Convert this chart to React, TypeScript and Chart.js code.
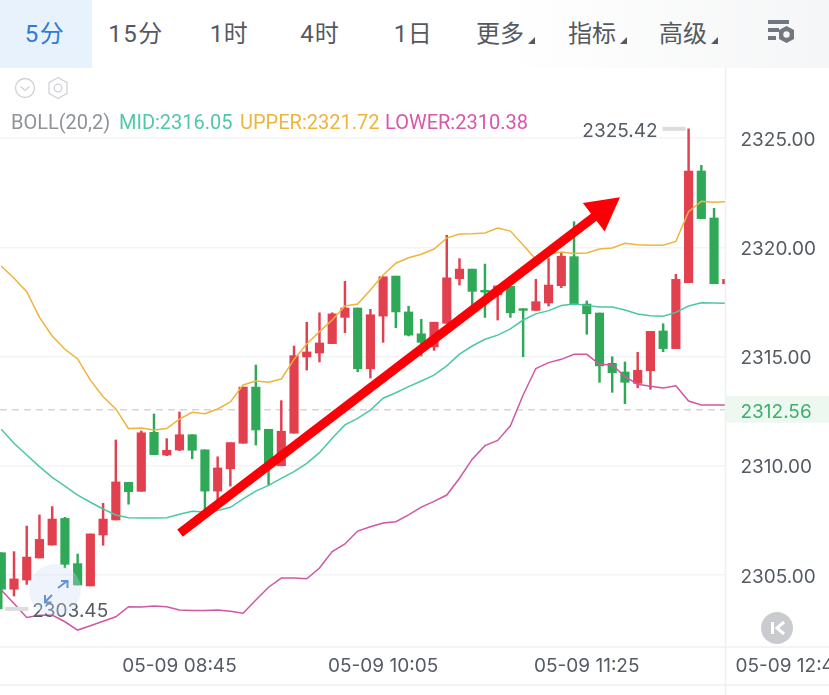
import React, { useEffect, useRef } from "react";
import { Chart, registerables } from "chart.js";

Chart.register(...registerables);

const opens = [2306.02,2304.35,2304.77,2305.78,2306.37,2307.59,2305.52,2304.50,2306.83,2307.52,2309.24,2308.83,2311.53,2310.49,2310.72,2311.42,2310.73,2308.84,2309.86,2311.03,2313.60,2311.67,2310.00,2311.49,2314.98,2315.16,2315.59,2316.79,2317.22,2314.44,2316.85,2318.68,2317.04,2316.04,2315.44,2316.52,2318.56,2319.00,2318.03,2317.82,2318.21,2317.19,2317.11,2317.45,2318.24,2319.57,2317.40,2316.99,2314.69,2314.29,2313.77,2314.35,2316.17,2315.36,2318.38,2323.49,2321.34,2318.33];
const highs = [2306.02,2306.07,2307.24,2307.75,2308.13,2307.64,2305.96,2306.88,2308.28,2311.18,2309.24,2311.59,2312.37,2311.24,2312.46,2311.42,2310.73,2310.41,2311.06,2313.60,2314.61,2311.67,2312.98,2315.48,2316.57,2317.00,2317.00,2318.44,2317.22,2317.16,2318.65,2318.68,2317.30,2316.70,2316.57,2320.55,2319.48,2319.00,2319.23,2318.23,2318.21,2317.19,2318.53,2319.48,2319.72,2321.17,2317.54,2316.99,2314.99,2314.75,2315.19,2316.15,2316.50,2318.76,2325.42,2323.75,2321.78,2318.53];
const lows = [2303.45,2304.04,2304.57,2305.78,2306.37,2305.33,2304.54,2304.50,2306.36,2307.52,2308.24,2308.83,2310.51,2310.46,2310.69,2310.32,2307.97,2308.43,2309.07,2311.03,2310.95,2309.12,2310.00,2311.49,2314.38,2314.75,2315.59,2316.09,2314.30,2314.02,2315.65,2316.32,2315.94,2315.02,2315.28,2316.52,2318.27,2317.31,2316.79,2316.67,2316.79,2314.99,2317.11,2317.31,2318.15,2317.40,2316.02,2313.82,2313.36,2312.84,2313.57,2313.50,2315.22,2315.36,2318.38,2321.31,2318.33,2318.33];
const closes = [2304.35,2304.82,2305.82,2306.63,2307.56,2305.49,2304.54,2306.88,2307.56,2309.26,2308.81,2311.51,2310.51,2310.71,2311.42,2310.71,2308.84,2309.90,2311.06,2313.60,2311.64,2310.03,2311.58,2315.04,2315.21,2315.62,2316.95,2317.22,2314.44,2316.91,2318.65,2317.04,2315.98,2315.65,2316.57,2318.60,2319.00,2317.98,2317.95,2318.23,2317.00,2317.11,2317.51,2318.27,2319.59,2317.40,2316.96,2314.57,2314.26,2313.82,2314.37,2316.15,2315.36,2318.53,2323.49,2321.31,2318.33,2318.53];

const upper = [2319.14,2318.58,2317.97,2316.79,2315.94,2315.33,2314.89,2313.92,2313.16,2312.60,2311.70,2311.73,2311.64,2311.70,2312.13,2312.45,2312.38,2312.60,2312.92,2313.70,2313.88,2313.82,2313.97,2314.87,2315.57,2316.14,2316.67,2317.31,2317.40,2318.04,2318.73,2319.27,2319.52,2319.68,2319.92,2320.42,2320.61,2320.62,2320.65,2320.88,2320.74,2320.10,2319.45,2319.69,2319.78,2319.72,2319.74,2319.92,2319.97,2320.18,2320.12,2320.09,2320.09,2320.27,2321.63,2322.10,2322.06,2322.09];
const mid = [2311.67,2311.03,2310.49,2309.96,2309.47,2309.07,2308.66,2308.33,2308.02,2307.75,2307.62,2307.61,2307.61,2307.62,2307.78,2307.92,2307.88,2307.95,2308.10,2308.48,2308.84,2309.10,2309.42,2309.73,2310.11,2310.60,2311.26,2311.87,2312.17,2312.55,2313.09,2313.34,2313.62,2313.88,2314.15,2314.57,2315.11,2315.48,2315.79,2315.98,2316.26,2316.67,2316.95,2317.10,2317.33,2317.40,2317.34,2317.27,2317.27,2317.13,2316.95,2316.87,2316.84,2317.02,2317.31,2317.46,2317.45,2317.43];
const lower = [2304.31,2303.70,2303.06,2303.16,2303.17,2302.86,2302.48,2302.68,2302.88,2303.09,2303.55,2303.54,2303.58,2303.55,2303.40,2303.37,2303.38,2303.40,2303.34,2303.25,2303.86,2304.44,2304.86,2304.86,2304.83,2305.32,2306.07,2306.42,2307.01,2307.21,2307.38,2307.44,2307.75,2308.11,2308.37,2308.66,2309.43,2310.30,2310.92,2311.16,2311.83,2313.24,2314.45,2314.72,2314.87,2315.10,2315.10,2314.64,2314.61,2314.08,2313.73,2313.64,2313.56,2313.66,2312.96,2312.78,2312.78,2312.78];

const xTickIndex = [14, 30, 46, 62];
const xTickLabels = ["05-09 08:45", "05-09 10:05", "05-09 11:25", "05-09 12:45"];
const yTickValues = [2305, 2310, 2315, 2320, 2325];

const lastPrice = 2312.56;
const highMark = { index: 54, price: 2325.42 };
const lowMark = { index: 0, price: 2303.45 };
const arrowFrom = { index: 14.04, price: 2306.92 };
const arrowTo = { index: 48.61, price: 2322.29 };

const toolbarItems = [
  { text: "5分", cx: 45, active: true, spacing: 1.5 },
  { text: "15分", cx: 136, spacing: 1.5 },
  { text: "1时", cx: 229, spacing: 0.5 },
  { text: "4时", cx: 320, spacing: 1 },
  { text: "1日", cx: 413, spacing: 0.5 },
  { text: "更多", cx: 500, caret: true },
  { text: "指标", cx: 592, caret: true },
  { text: "高级", cx: 683, caret: true },
];
const legendItems = [
  { text: "BOLL(20,2)", left: 11, color: "#8f9399" },
  { text: "MID:2316.05", left: 119, color: "#4fc9a6" },
  { text: "UPPER:2321.72", left: 240, color: "#eeb43c" },
  { text: "LOWER:2310.38", left: 385, color: "#d957a8" },
];

const RED = "#e2404f";
const GREEN = "#2fa957";
const TEXT = "#555b63";
const FONT = "Roboto, 'Noto Sans CJK SC', sans-serif";
const NUM_FONT = "Inter, Roboto, sans-serif";

const overlayPlugin = {
  id: "overlay",
  beforeDatasetsDraw(chart: any) {
    const { ctx, chartArea, scales } = chart;
    const y = scales.y.getPixelForValue(lastPrice);
    ctx.save();
    ctx.strokeStyle = "#d6d6d6";
    ctx.lineWidth = 1.5;
    ctx.setLineDash([7, 5]);
    ctx.beginPath();
    ctx.moveTo(chartArea.left, y);
    ctx.lineTo(chartArea.right, y);
    ctx.stroke();
    ctx.restore();
  },
  afterDatasetsDraw(chart: any) {
    const { ctx, chartArea, scales, width, height } = chart;
    const sx = scales.x;
    const sy = scales.y;
    ctx.save();

    // axis chrome
    ctx.strokeStyle = "#eff0f2";
    ctx.lineWidth = 1.5;
    ctx.beginPath();
    ctx.moveTo(chartArea.right + 0.5, chartArea.top);
    ctx.lineTo(chartArea.right + 0.5, height);
    ctx.moveTo(0, sx.bottom);
    ctx.lineTo(width, sx.bottom);
    ctx.moveTo(0, chartArea.bottom);
    ctx.lineTo(width, chartArea.bottom);
    ctx.stroke();

    // trend arrow
    const x0 = sx.getPixelForValue(arrowFrom.index);
    const y0 = sy.getPixelForValue(arrowFrom.price);
    const x1 = sx.getPixelForValue(arrowTo.index);
    const y1 = sy.getPixelForValue(arrowTo.price);
    const a = Math.atan2(y1 - y0, x1 - x0);
    const headLen = 33;
    const headHalf = 18;
    const bx = x1 - Math.cos(a) * headLen;
    const by = y1 - Math.sin(a) * headLen;
    ctx.strokeStyle = "#fb0007";
    ctx.lineWidth = 9;
    ctx.beginPath();
    ctx.moveTo(x0, y0);
    ctx.lineTo(bx + Math.cos(a) * 8, by + Math.sin(a) * 8);
    ctx.stroke();
    ctx.fillStyle = "#fb0007";
    ctx.beginPath();
    ctx.moveTo(x1, y1);
    ctx.lineTo(bx - Math.sin(a) * headHalf, by + Math.cos(a) * headHalf);
    ctx.lineTo(bx + Math.sin(a) * headHalf, by - Math.cos(a) * headHalf);
    ctx.closePath();
    ctx.fill();

    ctx.font = `19px ${NUM_FONT}`;
    ctx.textBaseline = "middle";

    // y tick labels, nudged onto the reference's text centre
    ctx.fillStyle = TEXT;
    ctx.textAlign = "left";
    sy.ticks.forEach((t: any) => {
      ctx.fillText(Number(t.value).toFixed(2), chartArea.right + 15.5, sy.getPixelForValue(t.value) + 2);
    });

    // high and low marks
    const hx = sx.getPixelForValue(highMark.index);
    const hy = sy.getPixelForValue(highMark.price);
    ctx.fillStyle = "#dcdcdc";
    ctx.fillRect(hx - 26, hy - 2, 23, 4);
    ctx.fillStyle = TEXT;
    ctx.textAlign = "right";
    ctx.fillText(highMark.price.toFixed(2), hx - 31, hy + 2);
    const lx = sx.getPixelForValue(lowMark.index);
    const ly = sy.getPixelForValue(lowMark.price);
    ctx.fillStyle = "#dcdcdc";
    ctx.fillRect(lx + 4, ly - 2, 23, 4);
    ctx.fillStyle = TEXT;
    ctx.textAlign = "left";
    ctx.fillText(lowMark.price.toFixed(2), lx + 31, ly + 2);

    // last price tag
    const py = sy.getPixelForValue(lastPrice);
    ctx.fillStyle = "#edf8f1";
    ctx.fillRect(chartArea.right + 1, py - 14, width - chartArea.right, 27);
    ctx.fillStyle = "#3fae6d";
    ctx.fillText(lastPrice.toFixed(2), chartArea.right + 15.5, py + 2);
    ctx.restore();
  },
};

function Toolbar() {
  return (
    <div style={{ position: "absolute", left: 0, top: 0, width: 829, height: 68, background: "linear-gradient(90deg,#ffffff 60%,#f5f6f7 100%)" }}>
      <div style={{ position: "absolute", left: 0, top: 0, width: 92, height: 68, background: "#e8f2fc" }} />
      {toolbarItems.map((it) => (
        <React.Fragment key={it.text}>
          <span style={{ position: "absolute", left: it.cx - 50, width: 100, top: 17, textAlign: "center", fontFamily: FONT, fontSize: 24, lineHeight: "34px", letterSpacing: it.spacing ?? 0, color: it.active ? "#2f7bd6" : "#55595f" }}>
            {it.text}
          </span>
          {it.caret ? (
            <svg style={{ position: "absolute", left: it.cx + 27, top: 36 }} width="9" height="9">
              <path d="M8 1V8H1Z" fill="#55595f" />
            </svg>
          ) : null}
        </React.Fragment>
      ))}
      <svg style={{ position: "absolute", left: 766, top: 18 }} width="34" height="30" viewBox="0 0 34 30">
        <rect x="2" y="2" width="21" height="4" fill="#737880" />
        <rect x="2" y="10" width="11" height="4" fill="#737880" />
        <rect x="2" y="18" width="8" height="4" fill="#737880" />
        <path d="M20.5 8 L28 12 V21 L20.5 25 L13 21 V12 Z" fill="#737880" />
        <circle cx="20.5" cy="16.5" r="3.2" fill="#f5f6f7" />
      </svg>
    </div>
  );
}

function ChartIcons() {
  return (
    <>
      <svg style={{ position: "absolute", left: 12, top: 76 }} width="60" height="26" viewBox="0 0 60 26">
        <circle cx="13" cy="12" r="9.5" fill="none" stroke="#cfd2d6" strokeWidth="1.3" />
        <path d="M8.5 10.5 L13 14.5 L17.5 10.5" fill="none" stroke="#cfd2d6" strokeWidth="1.3" />
        <path d="M46 1.5 L55 6.7 V17.3 L46 22.5 L37 17.3 V6.7 Z" fill="none" stroke="#cfd2d6" strokeWidth="1.3" />
        <circle cx="46" cy="12" r="3.8" fill="none" stroke="#cfd2d6" strokeWidth="1.3" />
      </svg>
      {legendItems.map((it) => (
        <span key={it.text} style={{ position: "absolute", left: it.left, top: 110, fontFamily: FONT, fontSize: 20, lineHeight: "24px", color: it.color, whiteSpace: "nowrap" }}>
          {it.text}
        </span>
      ))}
      <svg style={{ position: "absolute", left: 28, top: 563 }} width="54" height="54" viewBox="0 0 54 54">
        <circle cx="27" cy="27" r="26" fill="rgba(205,222,245,0.32)" />
        <path d="M30 25 L39 18 M33 18 L39.5 18 L39.5 25" fill="none" stroke="#5f93da" strokeWidth="2" />
        <path d="M24 32 L17 39 M17 32 L17 39.5 L23.5 39.5" fill="none" stroke="#5f93da" strokeWidth="2" />
      </svg>
      <svg style={{ position: "absolute", left: 761, top: 612 }} width="32" height="32" viewBox="0 0 32 32">
        <circle cx="16" cy="16" r="16" fill="#c9cbcf" />
        <rect x="10" y="10" width="3" height="12" fill="#fff" />
        <path d="M23 10 L16 16 L23 22" fill="none" stroke="#fff" strokeWidth="3" />
      </svg>
    </>
  );
}

export default function App() {
  const ref = useRef<HTMLCanvasElement>(null);

  useEffect(() => {
    const colors = closes.map((c, i) => (c >= opens[i] ? RED : GREEN));
    const lineBase = { type: "line", pointRadius: 0, borderWidth: 1.5, tension: 0, order: 1, fill: false };
    const chart = new Chart(ref.current as any, {
      type: "bar",
      data: {
        datasets: [
          { ...lineBase, label: "UPPER", data: upper.map((y, x) => ({ x, y })), borderColor: "#eeb43c" },
          { ...lineBase, label: "MID", data: mid.map((y, x) => ({ x, y })), borderColor: "#4cc7a6" },
          { ...lineBase, label: "LOWER", data: lower.map((y, x) => ({ x, y })), borderColor: "#cf57a4" },
          { label: "Body", order: 2, grouped: false, barThickness: 8.5, backgroundColor: colors, data: opens.map((o, x) => ({ x, y: [o, closes[x]] })) },
          { label: "Wick", order: 3, grouped: false, barThickness: 1.8, backgroundColor: colors, data: lows.map((l, x) => ({ x, y: [l, highs[x]] })) },
        ] as any,
      },
      options: {
        responsive: false,
        animation: false,
        layout: { autoPadding: false, padding: { top: 68, bottom: 10, left: 0, right: 0 } },
        plugins: { legend: { display: false }, tooltip: { enabled: false } },
        scales: {
          x: {
            type: "linear",
            offset: false,
            min: -0.1,
            max: 56.86,
            grid: { display: false },
            border: { display: false },
            afterBuildTicks: (axis: any) => {
              axis.ticks = xTickIndex.map((value) => ({ value }));
            },
            afterFit: (axis: any) => {
              axis.height = 38;
              axis.paddingLeft = 0;
              axis.paddingRight = 0;
            },
            ticks: {
              autoSkip: false,
              maxRotation: 0,
              padding: 0,
              color: TEXT,
              font: { family: NUM_FONT, size: 19 },
              callback: (value: any) => xTickLabels[xTickIndex.indexOf(Number(value))] ?? "",
            },
          },
          y: {
            type: "linear",
            position: "right",
            min: 2301.705,
            max: 2328.204,
            grid: { color: "#f3f4f5", lineWidth: 1.5, drawTicks: false },
            border: { display: false },
            afterBuildTicks: (axis: any) => {
              axis.ticks = yTickValues.map((value) => ({ value }));
            },
            afterFit: (axis: any) => {
              axis.width = 104;
            },
            ticks: { display: false },
          },
        },
      } as any,
      plugins: [overlayPlugin],
    });
    return () => chart.destroy();
  }, []);

  return (
    <div style={{ position: "absolute", left: 0, top: 0, width: 829, height: 695, overflow: "hidden", background: "#fff" }}>
      <canvas ref={ref} width={829} height={695} style={{ position: "absolute", left: 0, top: 0, width: 829, height: 695 }} />
      <Toolbar />
      <ChartIcons />
    </div>
  );
}
